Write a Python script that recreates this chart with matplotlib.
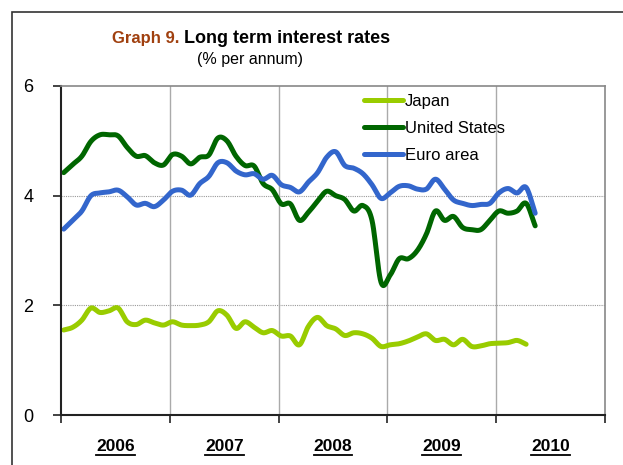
import matplotlib.pyplot as plt
import matplotlib.lines as mlines
import matplotlib.patches as mpatches
import numpy as np

plt.rcParams['font.family'] = ['Liberation Sans', 'DejaVu Sans']

# monthly values, Jan 2006 onwards
japan = [1.55, 1.60, 1.73, 1.95, 1.87, 1.90, 1.95, 1.70, 1.65, 1.73, 1.68, 1.64,
         1.70, 1.64, 1.63, 1.64, 1.70, 1.90, 1.82, 1.58, 1.70, 1.60, 1.50, 1.54,
         1.44, 1.44, 1.28, 1.62, 1.78, 1.63, 1.57, 1.45, 1.50, 1.48, 1.40, 1.25,
         1.28, 1.30, 1.35, 1.42, 1.48, 1.36, 1.38, 1.28, 1.38, 1.25, 1.26, 1.30,
         1.31, 1.32, 1.36, 1.29]
us = [4.42, 4.57, 4.72, 4.99, 5.11, 5.11, 5.09, 4.88, 4.72, 4.73, 4.60, 4.56,
      4.75, 4.72, 4.58, 4.70, 4.74, 5.05, 5.00, 4.72, 4.55, 4.54, 4.22, 4.11,
      3.85, 3.85, 3.55, 3.70, 3.90, 4.08, 4.00, 3.93, 3.72, 3.82, 3.55, 2.42,
      2.55, 2.85, 2.85, 3.00, 3.30, 3.72, 3.55, 3.62, 3.42, 3.38, 3.38, 3.55,
      3.72, 3.68, 3.72, 3.86, 3.45]
euro = [3.39, 3.55, 3.72, 4.00, 4.05, 4.07, 4.10, 3.98, 3.83, 3.86, 3.80, 3.92,
        4.08, 4.10, 4.01, 4.22, 4.35, 4.60, 4.60, 4.45, 4.38, 4.40, 4.30, 4.37,
        4.20, 4.15, 4.07, 4.25, 4.42, 4.70, 4.80, 4.55, 4.50, 4.40, 4.20, 3.95,
        4.05, 4.17, 4.18, 4.12, 4.12, 4.30, 4.12, 3.92, 3.86, 3.82, 3.84, 3.86,
        4.05, 4.13, 4.05, 4.15, 3.68]
years = [2006, 2007, 2008, 2009, 2010]
yticks = [0, 2, 4, 6]


def smooth(x, y, n=12):
    # catmull-rom through the monthly points, like excel's smoothed line
    x = np.asarray(x, float)
    y = np.asarray(y, float)
    px = np.concatenate([[2 * x[0] - x[1]], x, [2 * x[-1] - x[-2]]])
    py = np.concatenate([[2 * y[0] - y[1]], y, [2 * y[-1] - y[-2]]])
    t = np.linspace(0, 1, n, endpoint=False)
    xs, ys = [], []
    for i in range(1, len(px) - 2):
        for p, out in ((px, xs), (py, ys)):
            p0, p1, p2, p3 = p[i - 1], p[i], p[i + 1], p[i + 2]
            out.extend(0.5 * (2 * p1 + (-p0 + p2) * t + (2 * p0 - 5 * p1 + 4 * p2 - p3) * t ** 2
                              + (-p0 + 3 * p1 - 3 * p2 + p3) * t ** 3))
    xs.append(x[-1])
    ys.append(y[-1])
    return xs, ys


def month_x(n):
    return [years[0] + (i + 0.3) / 12 for i in range(n)]


fig = plt.figure(figsize=(6.23, 4.65), dpi=100)
ax = fig.add_axes([61 / 623, 50 / 465, 544 / 623, 329 / 465])

# outer chart border (top and left visible)
fig.patches.append(mpatches.Rectangle((12 / 623, -0.1), 1.2, 453 / 465 + 0.1,
                                      transform=fig.transFigure, fill=False,
                                      edgecolor='#333333', linewidth=1.2))

for name, vals, col in (("Japan", japan, "#99CC00"),
                        ("United States", us, "#006600"),
                        ("Euro area", euro, "#3366CC")):
    sx, sy = smooth(month_x(len(vals)), vals)
    ax.plot(sx, sy, color=col, linewidth=3.6, solid_capstyle='round',
            solid_joinstyle='round', label=name)

ax.set_xlim(years[0], years[-1] + 1)
ax.set_ylim(0, 6)
ax.set_yticks(yticks)
ax.set_yticklabels([str(v) for v in yticks], fontsize=13)
ax.set_xticks(years + [years[-1] + 1])
ax.set_xticklabels([])
ax.tick_params(axis='both', direction='out', length=6, width=1.2, color='#222222')
ax.tick_params(axis='y', pad=14)

for yv in yticks[1:-1]:
    ax.axhline(yv, color='#999999', linewidth=0.8, linestyle=(0, (1, 1)), zorder=0)
for xv in years[1:]:
    ax.axvline(xv, color='#AAAAAA', linewidth=1.0, zorder=0)

ax.spines['left'].set_color('#222222')
ax.spines['bottom'].set_color('#222222')
ax.spines['left'].set_linewidth(1.5)
ax.spines['bottom'].set_linewidth(1.5)
ax.spines['top'].set_color('#888888')
ax.spines['right'].set_color('#888888')
ax.spines['top'].set_linewidth(1.2)
ax.spines['right'].set_linewidth(1.2)

leg = ax.legend(loc='upper left', bbox_to_anchor=(0.5455, 0.995), frameon=False,
                fontsize=12, handlelength=2.3, handletextpad=0.15, labelspacing=0.7,
                borderaxespad=0)

# year labels, bold and underlined
year_texts = []
for yr in years:
    t = ax.text(yr + 0.5, -0.097, str(yr), transform=ax.get_xaxis_transform(),
                ha='center', va='center', fontsize=12.5, fontweight='bold')
    year_texts.append(t)

# title
fig.text(179 / 623, 1 - 43 / 465, "Graph 9.", color='#A0400F', fontsize=12,
         fontweight='bold', ha='right', va='baseline')
fig.text(184 / 623, 1 - 43 / 465, "Long term interest rates", color='black', fontsize=13,
         fontweight='bold', ha='left', va='baseline')
fig.text(250 / 623, 1 - 64 / 465, "(% per annum)", fontsize=11.5, ha='center', va='baseline')

fig.canvas.draw()
r = fig.canvas.get_renderer()
for t in year_texts:
    bb = t.get_window_extent(r)
    yline = (bb.y0 - 1) / fig.bbox.height
    fig.lines.append(mlines.Line2D([bb.x0 / fig.bbox.width, bb.x1 / fig.bbox.width],
                                   [yline, yline], transform=fig.transFigure,
                                   color='black', linewidth=1.3))

fig.savefig("out.png", dpi=100)
